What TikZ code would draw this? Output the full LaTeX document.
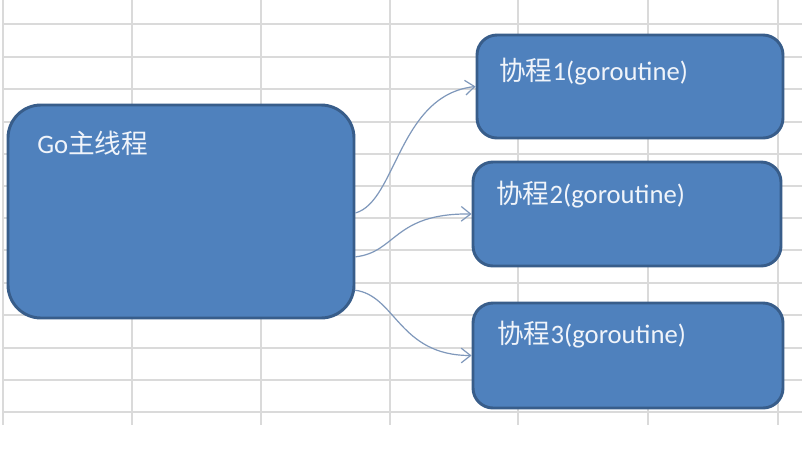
\documentclass[tikz,border=0pt]{standalone}
\usepackage{fontspec}
\setmainfont{Carlito}
\newfontfamily\cjk{Noto Sans CJK SC}
\usetikzlibrary{arrows.meta}
\definecolor{gridc}{HTML}{DADADA}
\definecolor{boxfill}{HTML}{4F81BD}
\definecolor{boxedge}{HTML}{385D8A}
\definecolor{txtc}{HTML}{F0F4FA}
\definecolor{connc}{HTML}{7F98BB}
\begin{document}
\begin{tikzpicture}[x=0.75pt,y=-0.75pt,
  gridline/.style={draw=gridc,line width=1.1pt},
  box/.style={draw=boxedge,fill=boxfill,line width=2.2pt,inner sep=0pt,rectangle},
  lbl/.style={anchor=west,inner sep=0pt,text=txtc,font=\fontsize{20pt}{24pt}\selectfont},
  conn/.style={draw=connc,line width=0.9pt,-{Straight Barb[length=7pt,width=11pt]}}]
\fill[white] (0,0) rectangle (802,450);
\useasboundingbox (0,0) rectangle (802,450);
% spreadsheet grid
\foreach \gx in {3,132,261,390,518,648,778}
  \draw[gridline] (\gx,0) -- (\gx,425);
\foreach \gy in {24,57,89,122,154,186,218,250,283,315,348,380,412}
  \draw[gridline] (3,\gy) -- (802,\gy);
% boxes
\node[box,rounded corners=24.75pt,minimum width=259.5pt,minimum height=159.75pt] (main) at (181,211.5) {};
\node[box,rounded corners=15pt,minimum width=229.5pt,minimum height=77.25pt] (b1) at (630,86.5) {};
\node[box,rounded corners=15pt,minimum width=231pt,minimum height=78pt] (b2) at (627,214) {};
\node[box,rounded corners=15pt,minimum width=232.5pt,minimum height=78.75pt] (b3) at (628,355.5) {};
% labels
\node[lbl] (tmain) at (37,143) {Go{\cjk 主线程}};
\node[lbl] (t1) at (499,72) {{\cjk 协程}1(goroutine)};
\node[lbl] (t2) at (496,195) {{\cjk 协程}2(goroutine)};
\node[lbl] (t3) at (497,335) {{\cjk 协程}3(goroutine)};
% connectors
\coordinate (s1) at ([yshift=-1.1pt]main.east);
\coordinate (s2) at ([yshift=-34pt]main.east);
\coordinate (s3) at ([yshift=-59pt,xshift=-0.5pt]main.east);
\draw[conn] (s1) .. controls +(41,-11.5) and +(-77,8.5) .. (b1.west);
\draw[conn] (s2) .. controls +(41,-4.5) and +(-78,-1) .. (b2.west);
\draw[conn] (s3) .. controls +(41,5) and +(-73,0) .. (b3.west);
\end{tikzpicture}
\end{document}
